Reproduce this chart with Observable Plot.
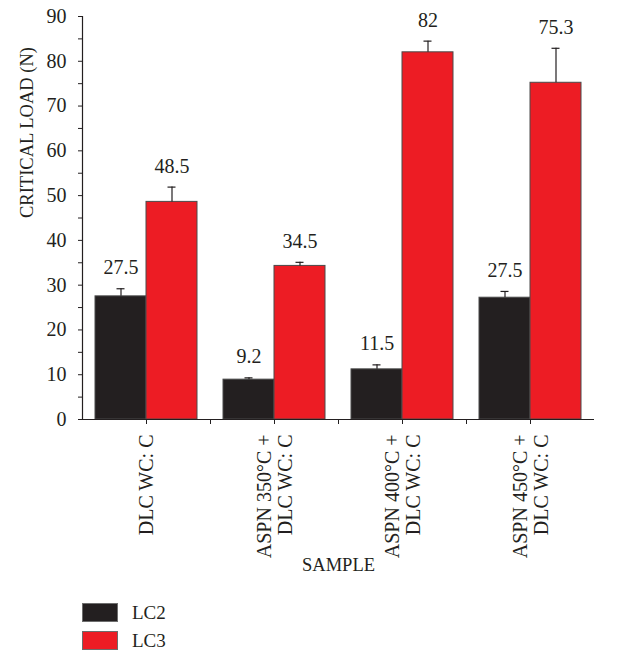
<!DOCTYPE html>
<html><head><meta charset="utf-8">
<script src="https://cdn.jsdelivr.net/npm/d3@7"></script>
<script src="https://cdn.jsdelivr.net/npm/@observablehq/plot@0.6"></script>
<style>
body{margin:0;background:#fff;font-family:"Liberation Serif","DejaVu Serif",serif;color:#231f20;}
#legend{margin-left:82px;margin-top:18px;}
.row{display:flex;align-items:center;height:19px;margin-bottom:9px;font-size:19px;}
.sw{width:34px;height:17px;border:1px solid #6d6d6d;margin-right:14px;}
</style></head><body>
<div id="chart"></div>
<div id="legend"></div>
<script>
const samples = ["DLC WC: C", "ASPN 350°C + DLC WC: C", "ASPN 400°C + DLC WC: C", "ASPN 450°C + DLC WC: C"];
const sampleLabels = ["DLC WC: C", "ASPN 350°C +\nDLC WC: C", "ASPN 400°C +\nDLC WC: C", "ASPN 450°C +\nDLC WC: C"];
const series = ["LC2", "LC3"];
const colors = ["#231f20", "#ed1c24"];
const lc2 = [27.5, 8.9, 11.2, 27.2];
const lc3 = [48.6, 34.3, 82.0, 75.2];
const lc2Err = [1.7, 0.4, 1.0, 1.4];
const lc3Err = [3.3, 0.8, 2.5, 7.7];
const lc2Labels = ["27.5", "9.2", "11.5", "27.5"];
const lc3Labels = ["48.5", "34.5", "82", "75.3"];
const yMajor = [0, 10, 20, 30, 40, 50, 60, 70, 80, 90];
const yMinor = [5, 15, 25, 35, 45, 55, 65, 75, 85];

const rows2 = samples.map((s, i) => ({sample: s, value: lc2[i], err: lc2Err[i], label: lc2Labels[i]}));
const rows3 = samples.map((s, i) => ({sample: s, value: lc3[i], err: lc3Err[i], label: lc3Labels[i]}));
const labelOf = new Map(samples.map((s, i) => [s, sampleLabels[i]]));

const half = 25.5;
const ink = "#231f20";
const chart = Plot.plot({
  width: 620, height: 585,
  marginTop: 16, marginBottom: 166, marginLeft: 82, marginRight: 26,
  style: {fontFamily: "'Liberation Serif','DejaVu Serif',serif", fontSize: "20px", color: ink, background: "#fff"},
  x: {domain: samples, padding: 0, axis: null},
  y: {domain: [0, 90], axis: null},
  marks: [
    Plot.barY(rows2, {x: "sample", y: "value", fill: colors[0], stroke: "#4a4a4a", strokeWidth: 1, insetLeft: 13, insetRight: 64}),
    Plot.barY(rows3, {x: "sample", y: "value", fill: colors[1], stroke: "#4a4a4a", strokeWidth: 1, insetLeft: 64, insetRight: 13}),
    Plot.ruleX(rows2, {x: "sample", y1: "value", y2: d => d.value + d.err, dx: -half, stroke: ink, strokeWidth: 1.2}),
    Plot.ruleX(rows3, {x: "sample", y1: "value", y2: d => d.value + d.err, dx: half, stroke: ink, strokeWidth: 1.2}),
    Plot.tickY(rows2, {x: "sample", y: d => d.value + d.err, insetLeft: 64 - half - 4, insetRight: 128 - (64 - half) - 4, stroke: ink, strokeWidth: 1.2}),
    Plot.tickY(rows3, {x: "sample", y: d => d.value + d.err, insetLeft: 64 + half - 4, insetRight: 128 - (64 + half) - 4, stroke: ink, strokeWidth: 1.2}),
    Plot.text(rows2, {x: "sample", y: d => d.value + d.err, text: "label", dx: -half, dy: -21, fill: ink, fontSize: 20}),
    Plot.text(rows3, {x: "sample", y: d => d.value + d.err, text: "label", dx: half, dy: -21, fill: ink, fontSize: 20}),
    Plot.ruleY([0], {stroke: ink, strokeWidth: 1.2}),
    Plot.ruleX([samples[0]], {dx: -64, stroke: ink, strokeWidth: 1.2}),
    Plot.axisY({ticks: yMajor, tickSize: 4, tickPadding: 12, label: null, fontSize: 20}),
    Plot.axisY({ticks: yMinor, tickSize: 4, tickFormat: () => "", label: null}),
    Plot.axisX({tickSize: 5, tickPadding: 10, tickRotate: -90, tickFormat: d => labelOf.get(d), lineHeight: 1.05, label: null, fontSize: 20}),
    Plot.axisX({ticks: samples.slice(0, 3), dx: 64, tickSize: 5, tickFormat: () => "", label: null}),
    Plot.text(["CRITICAL LOAD (N)"], {frameAnchor: "left", rotate: -90, dx: -55, fontSize: 18.5, fill: ink}),
    Plot.text(["SAMPLE"], {frameAnchor: "bottom", dy: 151, fontSize: 18.5, fill: ink})
  ]
});
document.getElementById("chart").appendChild(chart);

const legend = document.getElementById("legend");
series.forEach((s, i) => {
  const row = document.createElement("div");
  row.className = "row";
  const sw = document.createElement("div");
  sw.className = "sw";
  sw.style.background = colors[i];
  const t = document.createElement("span");
  t.textContent = s;
  row.appendChild(sw); row.appendChild(t);
  legend.appendChild(row);
});
</script>
</body></html>
